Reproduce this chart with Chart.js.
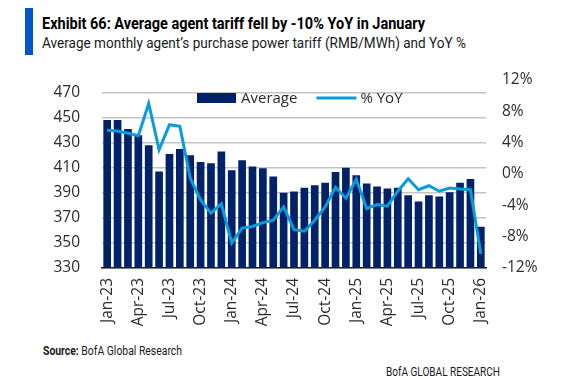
<!DOCTYPE html>
<html>
<head>
<meta charset="utf-8">
<script src="https://cdn.jsdelivr.net/npm/chart.js@4.4.1/dist/chart.umd.min.js"></script>
<style>
  html, body { margin: 0; padding: 0; background: #fff; }
  #wrap { position: relative; width: 571px; height: 378px; overflow: hidden; background: #fff; }
  #c { position: absolute; left: 0; top: 0; }
  .txt { position: absolute; white-space: nowrap; line-height: 1; transform-origin: 0 0; font-family: Roboto, "Liberation Sans", sans-serif; color: #000; }
  #bar { position: absolute; left: 25px; top: 8px; width: 8px; height: 47px; background: #0055C8; }
</style>
</head>
<body>
<div id="wrap">
  <div id="bar"></div>
  <div class="txt fit" data-w="383" style="left:42px; top:15px; font-size:17px; font-weight:bold;">Exhibit 66: Average agent tariff fell by -10% YoY in January</div>
  <div class="txt fit" data-w="424" style="left:42px; top:35.5px; font-size:15.5px; color:#1a1a1a;">Average monthly agent’s purchase power tariff (RMB/MWh) and YoY %</div>
  <div class="txt fit" data-w="139" style="left:43px; top:344.3px; font-size:13px; color:#1a1a1a;"><b>Source:</b> BofA Global Research</div>
  <div class="txt fit" data-w="114" style="left:386px; top:364.5px; font-size:13px; color:#1a1a1a;">BofA GLOBAL RESEARCH</div>
  <canvas id="c" width="571" height="378"></canvas>
</div>
<script>
const categories = ['Jan-23','Feb-23','Mar-23','Apr-23','May-23','Jun-23','Jul-23','Aug-23','Sep-23','Oct-23','Nov-23','Dec-23',
  'Jan-24','Feb-24','Mar-24','Apr-24','May-24','Jun-24','Jul-24','Aug-24','Sep-24','Oct-24','Nov-24','Dec-24',
  'Jan-25','Feb-25','Mar-25','Apr-25','May-25','Jun-25','Jul-25','Aug-25','Sep-25','Oct-25','Nov-25','Dec-25',
  'Jan-26'];
const averageTariff = [448,448,441,436,428,407,421,425,420,414.5,413.5,423,
  408,416,411,409.5,403,390,391,394,396,398,406.5,410,
  404,397.5,395,393.5,394,388,383,388,387,390.5,398,401,
  363];
const yoyPct = [5.6,5.5,5.2,4.9,9.0,3.1,6.3,6.1,-0.5,-3.3,-5.0,-3.8,
  -8.8,-6.9,-6.7,-6.2,-5.9,-4.2,-7.1,-7.3,-5.9,-4.2,-1.7,-3.1,
  -0.7,-4.4,-3.9,-4.1,-2.2,-0.6,-2.0,-1.5,-2.2,-1.8,-1.9,-2.0,
  -10.2];
const leftTicks = [330,350,370,390,410,430,450,470];
const rightTicks = [-12,-8,-4,0,4,8,12];
const seriesNames = ['Average','% YoY'];

// fit header/footer text widths
document.querySelectorAll('.fit').forEach(el => {
  const w = el.getBoundingClientRect().width;
  const target = +el.dataset.w;
  if (w > 0) el.style.transform = 'scaleX(' + (target / w) + ')';
});

const NAVY = '#012169';
const BLUE = '#0A9BDC';
const TXT = '#2b2b2b';

Chart.defaults.font.family = '"Open Sans", "Noto Sans", sans-serif';
Chart.defaults.color = TXT;

const insideLegend = {
  id: 'insideLegend',
  afterDatasetsDraw(chart) {
    const { ctx, chartArea: a } = chart;
    const ds = chart.data.datasets;
    const y = a.top + 18;
    let x = a.left + 95;
    ctx.save();
    ctx.font = '15px "Open Sans", "Noto Sans", sans-serif';
    ctx.textBaseline = 'middle';
    ctx.textAlign = 'left';
    ctx.fillStyle = ds[0].backgroundColor;
    ctx.fillRect(x, y - 5, 39, 10);
    x += 44;
    ctx.fillStyle = TXT;
    ctx.fillText(ds[0].label, x, y + 0.5);
    x += ctx.measureText(ds[0].label).width + 19;
    ctx.strokeStyle = ds[1].borderColor;
    ctx.lineWidth = 3;
    ctx.beginPath();
    ctx.moveTo(x, y);
    ctx.lineTo(x + 40, y);
    ctx.stroke();
    x += 44;
    ctx.fillText(ds[1].label, x, y + 0.5);
    ctx.restore();
  }
};

new Chart(document.getElementById('c'), {
  data: {
    labels: categories,
    datasets: [
      {
        type: 'bar',
        label: seriesNames[0],
        data: averageTariff,
        backgroundColor: NAVY,
        borderWidth: 0,
        yAxisID: 'yL',
        categoryPercentage: 1,
        barPercentage: 0.74,
        order: 1
      },
      {
        type: 'line',
        label: seriesNames[1],
        data: yoyPct,
        borderColor: BLUE,
        backgroundColor: BLUE,
        borderWidth: 3,
        pointRadius: 0,
        tension: 0,
        yAxisID: 'yR',
        order: 0
      }
    ]
  },
  options: {
    responsive: false,
    animation: false,
    devicePixelRatio: 1,
    layout: { padding: { top: 80, left: 0, right: 0, bottom: 0 } },
    plugins: { legend: { display: false }, tooltip: { enabled: false } },
    scales: {
      x: {
        grid: { display: false, drawTicks: false },
        border: { display: true, color: '#1a1a1a', width: 1.5 },
        ticks: {
          autoSkip: false,
          maxRotation: 90,
          minRotation: 90,
          padding: 10,
          font: { size: 15.5 },
          callback: function(v, i) { return i % 3 === 0 ? categories[i] : ''; }
        },
        afterFit(s) { s.height = 110; }
      },
      yL: {
        position: 'left',
        min: 330,
        max: 480,
        afterBuildTicks(s) { s.ticks = leftTicks.map(v => ({ value: v })); },
        grid: { color: '#c4c4c4', lineWidth: 1.5, drawTicks: false },
        border: { display: false },
        ticks: { padding: 22, font: { size: 15.5 } },
        afterFit(s) { s.width = 102; }
      },
      yR: {
        position: 'right',
        min: -12,
        max: 12,
        afterBuildTicks(s) { s.ticks = rightTicks.map(v => ({ value: v })); },
        grid: { display: false, drawTicks: false },
        border: { display: false },
        ticks: { padding: 16, font: { size: 15.5 }, callback: v => v + '%' },
        afterFit(s) { s.width = 85; }
      }
    }
  },
  plugins: [insideLegend]
});
</script>
</body>
</html>
